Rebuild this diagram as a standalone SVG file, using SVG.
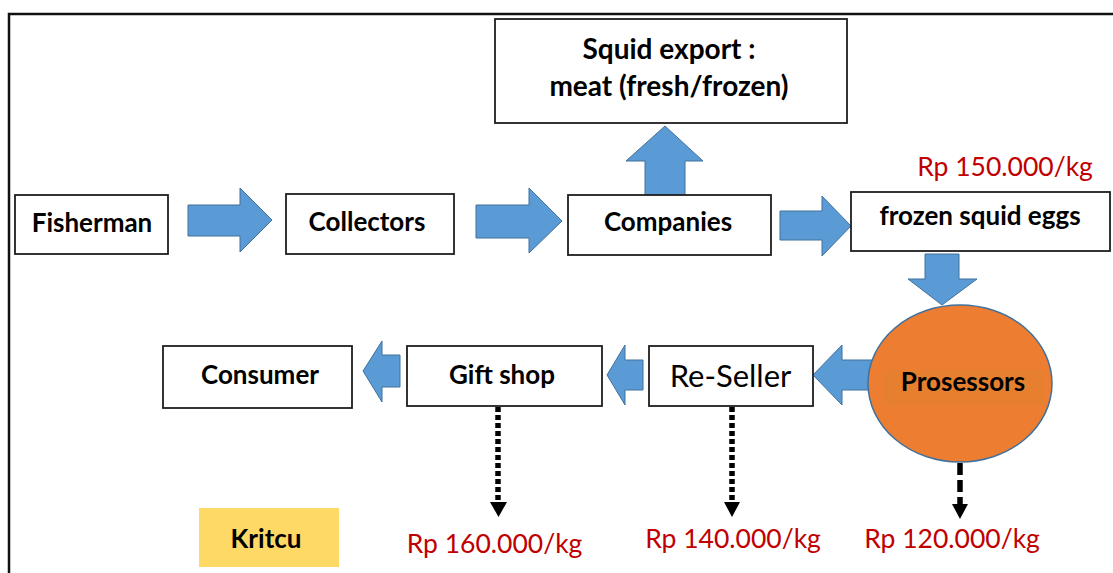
<svg xmlns="http://www.w3.org/2000/svg" width="1113" height="573" viewBox="0 0 1113 573">
  <style>
    .box { fill: #ffffff; stroke: #1e1e1e; stroke-width: 1.8; }
    .blk { fill: #5B9BD5; stroke: #41719C; stroke-width: 1; }
    .lbl { font-family: Lato, "Liberation Sans", sans-serif; font-weight: bold; font-size: 26px; fill: #000; text-anchor: middle; }
    .big { font-size: 28px; }
    .reg { font-family: Lato, "Liberation Sans", sans-serif; font-size: 31px; fill: #000; text-anchor: middle; }
    .price { font-family: Lato, "Liberation Sans", sans-serif; font-size: 26.5px; fill: #C00000; text-anchor: middle; }
    .dot { fill: none; stroke: #000; stroke-width: 5.5; }
    .tip { fill: #000; }
  </style>

  <rect width="1113" height="573" fill="#ffffff"/>
  <!-- outer frame -->
  <path d="M9,573 L9,14 L1113,14" fill="none" stroke="#111" stroke-width="2.5"/>

  <!-- connectors -->
  <g id="connectors">
    <polygon class="blk" points="188,205 240,205 240,188 272,220 240,252 240,236 188,236"/>
    <polygon class="blk" points="476,205 529,205 529,188 562,221 529,253 529,238 476,238"/>
    <polygon class="blk" points="645,195 645,161 626,161 665,126 703,161 685,161 685,195"/>
    <polygon class="blk" points="780,211 822,211 822,196 851,226 822,256 822,240 780,240"/>
    <polygon class="blk" points="925,254 959,254 959,279 977,279 942,305 908,279 925,279"/>
    <polygon class="blk" points="880,360 842,360 842,345 813,375 842,405 842,390 880,390"/>
    <polygon class="blk" points="643,360 625,360 625,345 607,375 625,405 625,390 643,390"/>
    <polygon class="blk" points="400,355 382,355 382,341 363,371 382,402 382,387 400,387"/>

    <line class="dot" x1="498" y1="407" x2="498" y2="502" stroke-dasharray="5 3"/>
    <polygon class="tip" points="490,502 507,502 498.5,517"/>
    <line class="dot" x1="732" y1="407" x2="732" y2="502" stroke-dasharray="5 3"/>
    <polygon class="tip" points="724,502 740,502 732,517"/>
    <line class="dot" x1="960" y1="463" x2="960" y2="504" stroke-dasharray="12 5" stroke-width="6"/>
    <polygon class="tip" points="952,504 968,504 960,519"/>
  </g>

  <g id="fisherman">
    <rect class="box" x="15" y="195" width="153" height="59"/>
    <text class="lbl" x="92" y="232">Fisherman</text>
  </g>
  <g id="collectors">
    <rect class="box" x="286" y="194" width="168" height="60"/>
    <text class="lbl" x="367" y="231">Collectors</text>
  </g>
  <g id="companies">
    <rect class="box" x="568" y="195" width="203" height="60"/>
    <text class="lbl" x="668" y="231">Companies</text>
  </g>
  <g id="squid-export">
    <rect class="box" x="495" y="19" width="352" height="104"/>
    <text class="lbl big" x="669" y="59">Squid export :</text>
    <text class="lbl big" x="669" y="96">meat (fresh/frozen)</text>
  </g>
  <g id="frozen-eggs">
    <rect class="box" x="851" y="192" width="259" height="59"/>
    <text class="lbl" x="980" y="225">frozen squid eggs</text>
    <text class="price" x="1005" y="176">Rp 150.000/kg</text>
  </g>
  <g id="prosessors">
    <ellipse cx="960" cy="383.5" rx="92" ry="78.5" fill="#ED7D31" stroke="#41719C" stroke-width="1.5"/>
    <rect x="883" y="370" width="160" height="35" fill="#E6802F"/>
    <text class="lbl" x="963" y="391">Prosessors</text>
    <text class="price" x="952" y="548">Rp 120.000/kg</text>
  </g>
  <g id="re-seller">
    <rect class="box" x="649" y="346" width="164" height="60"/>
    <text class="reg" x="730.5" y="387">Re-Seller</text>
    <text class="price" x="733" y="548">Rp 140.000/kg</text>
  </g>
  <g id="gift-shop">
    <rect class="box" x="407" y="346" width="195" height="60"/>
    <text class="lbl" x="502" y="384">Gift shop</text>
    <text class="price" x="494.5" y="553">Rp 160.000/kg</text>
  </g>
  <g id="consumer">
    <rect class="box" x="163" y="346" width="189" height="62"/>
    <text class="lbl" x="260" y="384">Consumer</text>
  </g>
  <g id="kritcu">
    <rect x="199" y="508" width="140" height="59" fill="#FFD966"/>
    <text class="lbl" x="266" y="548">Kritcu</text>
  </g>
</svg>
